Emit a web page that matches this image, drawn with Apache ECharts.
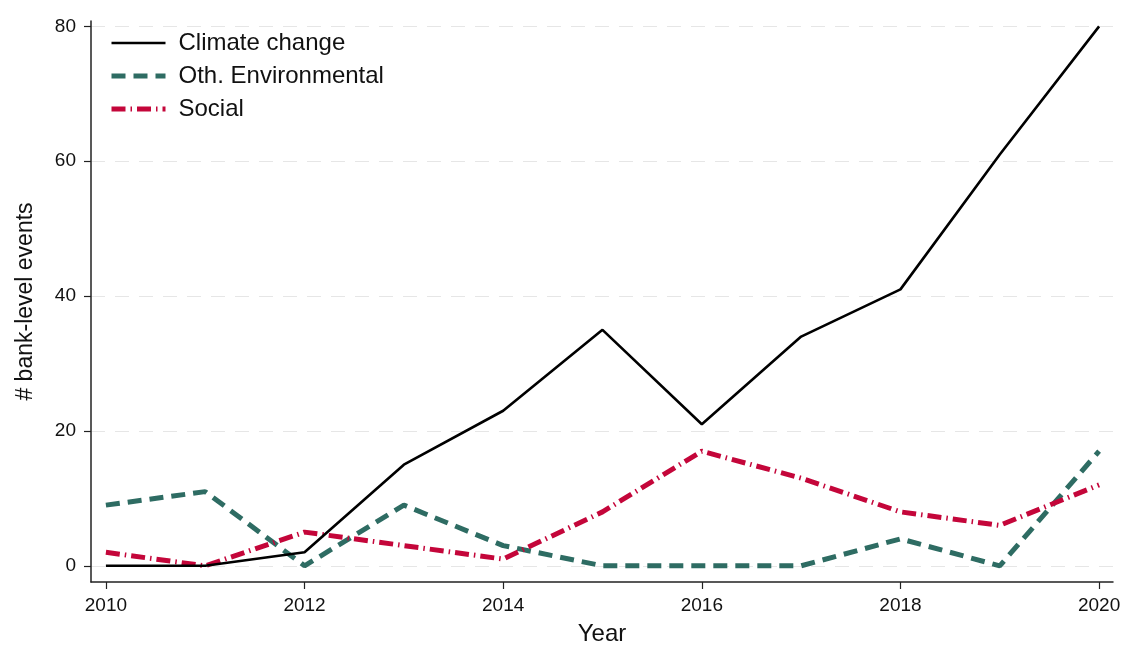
<!DOCTYPE html>
<html><head><meta charset="utf-8">
<script src="https://cdn.jsdelivr.net/npm/echarts@6/dist/echarts.min.js"></script>
<style>html,body{margin:0;padding:0;background:#fff}#c{width:1128px;height:648px}</style>
</head><body><div id="c"></div>
<script>
const years = [2010,2011,2012,2013,2014,2015,2016,2017,2018,2019,2020];
const climateChange = [0,0,2,15,23,35,21,34,41,61,80];
const othEnvironmental = [9,11,0,9,3,0,0,0,4,0,17];
const social = [2,0,5,3,1,8,17,13,8,6,12];
const xTicks = [2010,2012,2014,2016,2018,2020];
const yTicks = [0,20,40,60,80];
const seriesNames = ['Climate change','Oth. Environmental','Social'];

const font = 'Liberation Sans, Arial, Helvetica, sans-serif';
const pair = arr => years.map((y,i)=>[y,arr[i]]);
const chart = echarts.init(document.getElementById('c'), null, {renderer:'canvas'});
chart.setOption({
  animation:false,
  backgroundColor:'#fff',
  textStyle:{fontFamily:font,color:'#111'},
  grid:{left:91,right:15,top:21,bottom:66,containLabel:false,outerBoundsMode:'none'},
  legend:{
    orient:'vertical', left:104, top:26, itemWidth:54, itemHeight:24, itemGap:9,
    itemStyle:{opacity:0},
    lineStyle:{width:'inherit'},
    textStyle:{fontSize:24,color:'#111',fontFamily:font,padding:[0,0,0,8]},
    data:seriesNames
  },
  xAxis:{
    type:'value', min:2009.85, max:2020.14,
    name:'Year', nameLocation:'middle', nameGap:40,
    nameTextStyle:{fontSize:24,color:'#111',fontFamily:font},
    axisLine:{show:true,onZero:false,lineStyle:{color:'#222',width:1.5}},
    axisTick:{show:true,length:7,lineStyle:{color:'#222',width:1.2},customValues:xTicks},
    axisLabel:{fontSize:19,color:'#111',margin:14,customValues:xTicks,formatter:v=>String(v)},
    splitLine:{show:false}
  },
  yAxis:{
    type:'value', min:-2.4, max:80.8,
    name:'# bank-level events', nameLocation:'middle', nameGap:54,
    nameTextStyle:{fontSize:23,color:'#111',fontFamily:font},
    axisLine:{show:true,onZero:false,lineStyle:{color:'#222',width:1.5}},
    axisTick:{show:true,length:7,lineStyle:{color:'#222',width:1.2},customValues:yTicks},
    axisLabel:{fontSize:19,color:'#111',margin:15,customValues:yTicks},
    splitLine:{show:true,lineStyle:{color:'#e6e6e6',width:1.2,type:[14,10]}}
  },
  series:[
    {name:seriesNames[0],type:'line',data:pair(climateChange),symbol:'none',
     color:'#000',lineStyle:{color:'#000',width:2.6,type:'solid'},z:3},
    {name:seriesNames[1],type:'line',data:pair(othEnvironmental),symbol:'none',
     color:'#2e6c63',lineStyle:{color:'#2e6c63',width:5,type:[14,8]},z:2},
    {name:seriesNames[2],type:'line',data:pair(social),symbol:'none',
     color:'#c4063a',lineStyle:{color:'#c4063a',width:5,type:[14,5,1.5,5]},z:2}
  ]
});
</script></body></html>
